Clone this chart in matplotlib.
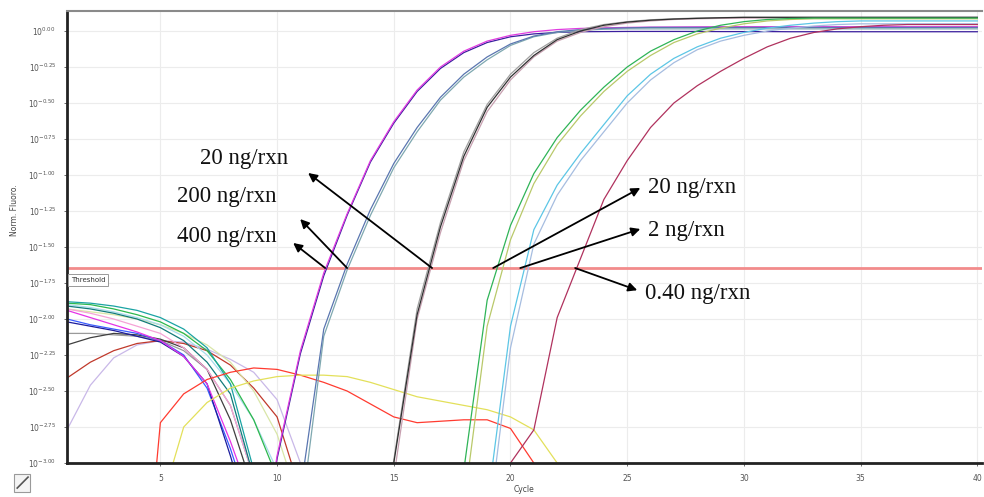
import numpy as np
import matplotlib
matplotlib.use('Agg')
import matplotlib.pyplot as plt
from matplotlib.ticker import FixedLocator, NullLocator
from matplotlib.patches import Rectangle
import matplotlib.transforms as mtransforms

plt.rcParams['font.family'] = ['DejaVu Sans']
plt.rcParams['mathtext.default'] = 'regular'

# 归一化荧光值，以 log10 指数记录（每个循环一个值，低于 -3 的点落在坐标轴以外）
# 早期循环基线（循环 1 起）
base_teal = [-1.88, -1.89, -1.91, -1.94, -1.99, -2.07, -2.20, -2.45, -3.05]
base_green = [-1.89, -1.90, -1.93, -1.97, -2.02, -2.10, -2.22, -2.42, -2.70, -3.10]
base_navy = [-2.02, -2.05, -2.08, -2.12, -2.16, -2.26, -2.45, -2.95, -3.50]
base_blue = [-2.00, -2.04, -2.07, -2.10, -2.15, -2.25, -2.48, -2.90, -3.40]
base_magenta = [-1.94, -1.99, -2.04, -2.09, -2.15, -2.26, -2.45, -2.85, -3.30]
base_pink = [-1.93, -1.96, -2.00, -2.05, -2.10, -2.20, -2.35, -2.60, -3.10]
base_pale = [-1.93, -1.95, -1.97, -2.00, -2.04, -2.10, -2.18, -2.30, -2.50, -2.80, -3.30]
base_gray = [-2.10, -2.10, -2.11, -2.12, -2.15, -2.22, -2.35, -2.60, -3.10]
base_dark = [-2.18, -2.13, -2.10, -2.11, -2.14, -2.20, -2.35, -2.70, -3.20]
base_brown = [-2.41, -2.30, -2.22, -2.17, -2.15, -2.17, -2.22, -2.32, -2.48, -2.68, -3.20]
base_lavender = [-2.77, -2.46, -2.27, -2.18, -2.15, -2.16, -2.21, -2.28, -2.37, -2.56, -3.00]
base_cyan = [-1.90, -1.92, -1.95, -1.99, -2.04, -2.12, -2.25, -2.45, -2.70, -3.05]
base_dteal = [-1.91, -1.93, -1.96, -2.00, -2.06, -2.15, -2.30, -2.52, -3.10]

# 阴性/非特异信号（循环 4 起、循环 5 起）
hump_red = [-4.50, -2.72, -2.52, -2.42, -2.37, -2.34, -2.35, -2.39, -2.44, -2.50,
            -2.59, -2.68, -2.72, -2.71, -2.70, -2.70, -2.76, -3.00, -3.50]
hump_yellow = [-3.30, -2.75, -2.58, -2.48, -2.43, -2.40, -2.39, -2.39, -2.40, -2.44,
               -2.49, -2.54, -2.57, -2.60, -2.63, -2.68, -2.77, -3.00, -3.50]

# 扩增曲线（各自的起始循环见 start_*）
start_400 = 9
amp_400a = [-4.00, -2.95, -2.22, -1.68, -1.27, -0.90, -0.63, -0.41, -0.25, -0.14,
            -0.07, -0.03, -0.005, 0.010, 0.018, 0.022, 0.025, 0.027, 0.028, 0.029,
            0.030, 0.030, 0.030, 0.030, 0.030, 0.030, 0.030, 0.030, 0.030, 0.030,
            0.030, 0.030]
amp_400b = [-4.00, -2.97, -2.24, -1.70, -1.28, -0.91, -0.64, -0.42, -0.26, -0.15,
            -0.08, -0.04, -0.02, -0.010, -0.005, -0.004, -0.003, -0.003, -0.003, -0.003,
            -0.004, -0.004, -0.004, -0.005, -0.005, -0.005, -0.005, -0.005, -0.005, -0.005,
            -0.005, -0.005]
start_200 = 10
amp_200a = [-4.00, -3.20, -2.07, -1.62, -1.24, -0.92, -0.67, -0.46, -0.30, -0.18,
            -0.09, -0.035, -0.005, 0.010, 0.018, 0.022, 0.025, 0.025, 0.025, 0.025,
            0.025, 0.025, 0.025, 0.025, 0.025, 0.025, 0.025, 0.025, 0.025, 0.025,
            0.025]
amp_200b = [-4.00, -3.40, -2.12, -1.66, -1.28, -0.95, -0.70, -0.48, -0.32, -0.20,
            -0.10, -0.04, -0.010, 0.005, 0.012, 0.015, 0.015, 0.015, 0.015, 0.015,
            0.015, 0.015, 0.015, 0.015, 0.015, 0.015, 0.015, 0.015, 0.015, 0.015,
            0.015]
start_20 = 14
amp_20a = [-4.00, -2.98, -1.93, -1.33, -0.84, -0.51, -0.30, -0.15, -0.05, 0.010,
           0.045, 0.065, 0.078, 0.085, 0.090, 0.093, 0.095, 0.095, 0.095, 0.095,
           0.095, 0.095, 0.095, 0.095, 0.095, 0.095, 0.095]
amp_20b = [-4.00, -3.00, -1.97, -1.36, -0.87, -0.53, -0.32, -0.17, -0.06, 0.000,
           0.040, 0.062, 0.075, 0.083, 0.088, 0.092, 0.095, 0.095, 0.095, 0.095,
           0.095, 0.095, 0.095, 0.095, 0.095, 0.095, 0.095]
amp_20c = [-4.00, -3.10, -2.00, -1.40, -0.90, -0.56, -0.34, -0.18, -0.07, -0.010,
           0.030, 0.055, 0.070, 0.080, 0.085, 0.088, 0.090, 0.090, 0.090, 0.090,
           0.090, 0.090, 0.090, 0.090, 0.090, 0.090, 0.090]
start_20g = 17
amp_20g = [-4.00, -3.05, -1.87, -1.35, -0.99, -0.74, -0.55, -0.39, -0.25, -0.14,
           -0.06, 0.000, 0.040, 0.065, 0.080, 0.087, 0.090, 0.090, 0.090, 0.090,
           0.090, 0.090, 0.090, 0.090]
amp_20y = [-4.00, -3.30, -2.05, -1.45, -1.06, -0.79, -0.59, -0.42, -0.28, -0.17,
           -0.08, -0.020, 0.020, 0.050, 0.070, 0.080, 0.085, 0.085, 0.085, 0.085,
           0.085, 0.085, 0.085, 0.085]
start_2 = 18
amp_2a = [-4.00, -3.30, -2.05, -1.38, -1.07, -0.85, -0.65, -0.45, -0.30, -0.19,
          -0.11, -0.05, -0.010, 0.020, 0.040, 0.055, 0.065, 0.070, 0.070, 0.070,
          0.070, 0.070, 0.070]
amp_2b = [-4.00, -3.50, -2.20, -1.48, -1.14, -0.90, -0.70, -0.50, -0.34, -0.22,
          -0.13, -0.07, -0.030, 0.000, 0.020, 0.035, 0.045, 0.050, 0.050, 0.050,
          0.050, 0.050, 0.050]
start_04 = 19
amp_04 = [-3.60, -3.00, -2.77, -1.99, -1.58, -1.17, -0.90, -0.67, -0.50, -0.38,
          -0.28, -0.19, -0.11, -0.05, -0.010, 0.015, 0.030, 0.040, 0.045, 0.045,
          0.045, 0.045]

threshold_exp = -1.646
# 各浓度的 Ct（阈值交点）
ct_400, ct_200, ct_20, ct_20g, ct_2, ct_04 = 12.06, 13.0, 16.64, 19.26, 20.42, 22.77

fig = plt.figure(figsize=(9.84, 4.97), dpi=100)
ax = fig.add_axes([67 / 984, 34 / 497, 915 / 984, 452 / 497])
ax.set_yscale('log')
ax.set_xlim(1, 40.2)
ax.set_ylim(1e-3, 10 ** 0.139)


def draw(values, start, color, lw=0.9, z=2):
    x = np.arange(start, start + len(values))
    ax.plot(x, 10 ** np.array(values), color=color, lw=lw, zorder=z)


for vals, col in [(base_lavender, '#c9b8e8'), (base_brown, '#c0392b'),
                  (base_pale, '#d9e6a8'), (base_gray, '#9a9a9a'),
                  (base_dark, '#404040'), (base_cyan, '#a8dcec'),
                  (base_pink, '#f5a3d6'), (base_green, '#2db84d'),
                  (base_teal, '#1aa3a3'), (base_dteal, '#127a7a'),
                  (base_blue, '#3a5cff'), (base_navy, '#1c1c9c'),
                  (base_magenta, '#e633e6')]:
    draw(vals, 1, col)

draw(hump_red, 4, '#ff3b30')
draw(hump_yellow, 5, '#e3e05a')

draw(amp_400b, start_400, '#3a1e9e')
draw(amp_400a, start_400, '#e03ce0')
draw(amp_200b, start_200, '#7fa8b0')
draw(amp_200a, start_200, '#5a76b0')
draw(amp_20c, start_20, '#c7a0b0')
draw(amp_20a, start_20, '#a0a0a0')
draw(amp_20b, start_20, '#303030')
draw(amp_20y, start_20g, '#b9c96a')
draw(amp_20g, start_20g, '#2fb457')
draw(amp_2b, start_2, '#a6bde0')
draw(amp_2a, start_2, '#5cc6e6')
draw(amp_04, start_04, '#b0325e')

# 阈值线
thr = 10 ** threshold_exp
ax.axhline(thr, color='#f28b8b', lw=2, zorder=1.5)
trans = mtransforms.blended_transform_factory(ax.transAxes, ax.transData)
ax.text(0.004, 10 ** -1.73, 'Threshold', transform=trans, fontsize=5, color='#333333',
        va='center', ha='left',
        bbox=dict(boxstyle='square,pad=0.4', fc='white', ec='#999999', lw=0.7))

# 坐标轴
y_exps = np.arange(-3.0, 0.001, 0.25)
ax.yaxis.set_major_locator(FixedLocator(10 ** y_exps))
ax.yaxis.set_minor_locator(NullLocator())
ax.set_yticklabels(['$10^{%.2f}$' % (e + 0.0) for e in y_exps])
ax.set_xticks([5, 10, 15, 20, 25, 30, 35, 40])
ax.tick_params(axis='both', labelsize=5.5, colors='#555555', length=2, width=0.6)
ax.tick_params(axis='y', pad=6)
ax.tick_params(axis='x', pad=6)
ax.grid(True, color='#ececec', lw=0.8, zorder=0)
ax.set_axisbelow(True)
ax.set_xlabel('Cycle', fontsize=5.5, color='#444444', labelpad=1)
ax.set_ylabel('Norm. Fluoro.', fontsize=5.5, color='#444444')
ax.yaxis.set_label_coords(-0.052, 0.56)

for side in ['left', 'bottom']:
    ax.spines[side].set_linewidth(2)
    ax.spines[side].set_color('#222222')
ax.spines['top'].set_color('#8a8a8a')
ax.spines['top'].set_linewidth(1.5)
ax.spines['right'].set_visible(False)

# 注释箭头：从阈值交点指向标注文字
serif = ['Liberation Serif', 'DejaVu Serif']
arrow = dict(arrowstyle='-|>', color='black', lw=1.3, mutation_scale=13,
             shrinkA=0, shrinkB=0)
notes = [
    ('20 ng/rxn', ct_20, (11.33, -0.986), (6.7, -0.882)),
    ('200 ng/rxn', ct_200, (10.99, -1.306), (5.71, -1.15)),
    ('400 ng/rxn', ct_400, (10.69, -1.472), (5.71, -1.424)),
    ('20 ng/rxn', ct_20g, (25.56, -1.09), (25.9, -1.09)),
    ('2 ng/rxn', ct_2, (25.56, -1.375), (25.9, -1.382)),
    ('0.40 ng/rxn', ct_04, (25.43, -1.80), (25.77, -1.82)),
]
for label, ct, head, pos in notes:
    ax.annotate('', xy=(head[0], 10 ** head[1]), xytext=(ct, thr),
                arrowprops=arrow, zorder=5)
    ax.text(pos[0], 10 ** pos[1], label, family=serif, fontsize=16.5,
            va='center', ha='left', color='#111111', zorder=6)

# 左下角工具图标框
fig.patches.append(Rectangle((14 / 984, 5 / 497), 16 / 984, 18 / 497,
                             transform=fig.transFigure, fc='#f4f4f4',
                             ec='#9a9a9a', lw=0.8))
fig.add_artist(plt.Line2D([0.0175, 0.0285], [0.018, 0.04], color='#555555', lw=1.2))

fig.savefig('out.png', dpi=100)
